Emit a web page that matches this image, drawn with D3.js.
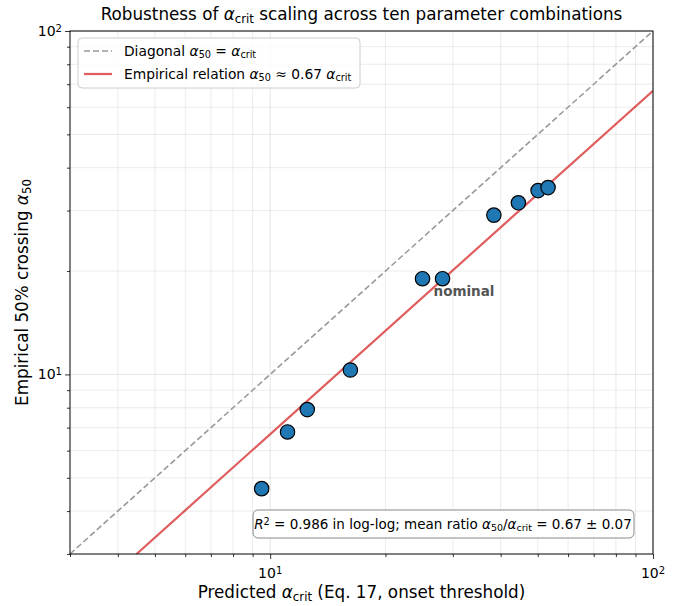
<!DOCTYPE html>
<html>
<head>
<meta charset="utf-8">
<script src="https://cdn.jsdelivr.net/npm/d3@7"></script>
<style>
  body { margin: 0; background: #fff; }
  text { font-family: "DejaVu Sans", sans-serif; }
</style>
</head>
<body>
<div class="chart"></div>
<script>
// ten parameter combinations
var predicted = [9.5, 11.1, 12.5, 16.2, 25.0, 28.2, 38.4, 44.5, 50.1, 53.2]
var empirical = [4.65, 6.8, 7.9, 10.3, 19.0, 19.0, 29.1, 31.6, 34.3, 35.0]
var nominalIndex = 5
var slope = 0.67
var domain = [3, 100]
var majorTicks = [10, 100]

var W = 689, H = 606
var margin = {top: 31, right: 36, bottom: 52, left: 70}
var width = W - margin.left - margin.right
var height = H - margin.top - margin.bottom

var svg = d3.select('.chart')
  .append('svg')
  .attr('width', W)
  .attr('height', H)

var x = d3.scaleLog().domain(domain).range([0, width])
var y = d3.scaleLog().domain(domain).range([height, 0])

// writes mixed text: [text, kind] where kind is '', 'i', 'sub', 'sup'
function mtext(sel, parts, size) {
  parts.forEach(function(p) {
    var t = sel.append('tspan').text(p[0])
    if (p[1] === 'i') t.attr('font-style', 'italic')
    if (p[1] === 'sub') t.attr('font-size', size * 0.7).attr('baseline-shift', '-22%')
    if (p[1] === 'sup') t.attr('font-size', size * 0.72).attr('baseline-shift', '45%')
  })
  return sel
}

var g = svg.append('g').attr('transform', 'translate(' + margin.left + ',' + margin.top + ')')

var minor = []
;[1, 10].forEach(function(d) {
  for (var k = 2; k <= 9; k++) if (d * k >= 3 && d * k < 100) minor.push(d * k)
})
var allTicks = minor.concat(majorTicks).filter(function(v) { return v > 3 })

// grid
g.selectAll('.gx').data(allTicks).enter().append('line')
  .attr('x1', function(d) { return x(d) }).attr('x2', function(d) { return x(d) })
  .attr('y1', 0).attr('y2', height)
  .attr('stroke', '#b0b0b0').attr('stroke-opacity', function(d) { return majorTicks.indexOf(d) >= 0 ? 0.4 : 0.3 })
  .attr('stroke-width', 0.8)
g.selectAll('.gy').data(allTicks).enter().append('line')
  .attr('y1', function(d) { return y(d) }).attr('y2', function(d) { return y(d) })
  .attr('x1', 0).attr('x2', width)
  .attr('stroke', '#b0b0b0').attr('stroke-opacity', function(d) { return majorTicks.indexOf(d) >= 0 ? 0.4 : 0.3 })
  .attr('stroke-width', 0.8)

g.append('clipPath').attr('id', 'clip').append('rect').attr('width', width).attr('height', height)
var plot = g.append('g').attr('clip-path', 'url(#clip)')

// diagonal
plot.append('line')
  .attr('x1', x(domain[0])).attr('y1', y(domain[0]))
  .attr('x2', x(domain[1])).attr('y2', y(domain[1]))
  .attr('stroke', '#999').attr('stroke-width', 1.6)
  .attr('stroke-dasharray', '6,3')

// empirical relation
plot.append('line')
  .attr('x1', x(domain[0] / slope)).attr('y1', y(domain[0]))
  .attr('x2', x(domain[1])).attr('y2', y(domain[1] * slope))
  .attr('stroke', '#d62728').attr('stroke-opacity', 0.75).attr('stroke-width', 2.2)

// points
g.selectAll('circle')
  .data(predicted)
  .enter().append('circle')
  .attr('cx', function(d) { return x(d) })
  .attr('cy', function(d, i) { return y(empirical[i]) })
  .attr('r', 7.2)
  .attr('fill', '#1f77b4')
  .attr('stroke', '#000').attr('stroke-width', 1.2)

g.append('text')
  .attr('x', x(predicted[nominalIndex]) - 9)
  .attr('y', y(empirical[nominalIndex]) + 17)
  .attr('font-size', 13.5).attr('font-weight', 'bold')
  .attr('fill', '#555')
  .text('nominal')

// axes
var xAxis = g.append('g').attr('transform', 'translate(0,' + height + ')')
var yAxis = g.append('g')
xAxis.call(d3.axisBottom(x).tickValues(minor).tickSize(3).tickFormat(''))
xAxis.call(function(s) { s.select('.domain').remove() })
xAxis.append('g').call(d3.axisBottom(x).tickValues(majorTicks).tickSize(5).tickFormat(''))
  .call(function(s) { s.select('.domain').remove() })
yAxis.call(d3.axisLeft(y).tickValues(minor).tickSize(3).tickFormat(''))
yAxis.call(function(s) { s.select('.domain').remove() })
yAxis.append('g').call(d3.axisLeft(y).tickValues(majorTicks).tickSize(5).tickFormat(''))
  .call(function(s) { s.select('.domain').remove() })
g.selectAll('.tick line').attr('stroke', '#000').attr('stroke-width', 0.8)

g.append('rect').attr('width', width).attr('height', height)
  .attr('fill', 'none').attr('stroke', '#000').attr('stroke-width', 1)

majorTicks.forEach(function(v) {
  var e = Math.round(Math.log10(v))
  mtext(g.append('text').attr('x', x(v)).attr('y', height + 24)
    .attr('text-anchor', 'middle').attr('font-size', 14), [['10', ''], [String(e), 'sup']], 14)
  mtext(g.append('text').attr('x', -8).attr('y', y(v) + 5)
    .attr('text-anchor', 'end').attr('font-size', 14), [['10', ''], [String(e), 'sup']], 14)
})

// labels
mtext(svg.append('text').attr('x', margin.left + width / 2).attr('y', 20)
  .attr('text-anchor', 'middle').attr('font-size', 16.8),
  [['Robustness of ', ''], ['α', 'i'], ['crit', 'sub'], [' scaling across ten parameter combinations', '']], 16.8)
mtext(svg.append('text').attr('x', margin.left + width / 2).attr('y', 598)
  .attr('text-anchor', 'middle').attr('font-size', 16.8),
  [['Predicted ', ''], ['α', 'i'], ['crit', 'sub'], [' (Eq. 17, onset threshold)', '']], 16.8)
mtext(svg.append('text').attr('transform', 'translate(28,' + (margin.top + height / 2) + ') rotate(-90)')
  .attr('text-anchor', 'middle').attr('font-size', 16.8),
  [['Empirical 50% crossing ', ''], ['α', 'i'], ['50', 'sub']], 16.8)

// legend
var leg = g.append('g').attr('transform', 'translate(8,7)')
leg.append('rect').attr('width', 282).attr('height', 50).attr('rx', 4)
  .attr('fill', '#fff').attr('fill-opacity', 0.8).attr('stroke', '#ccc')
leg.append('line').attr('x1', 6).attr('x2', 34).attr('y1', 13).attr('y2', 13)
  .attr('stroke', '#999').attr('stroke-width', 1.6).attr('stroke-dasharray', '6,3')
leg.append('line').attr('x1', 6).attr('x2', 34).attr('y1', 36).attr('y2', 36)
  .attr('stroke', '#d62728').attr('stroke-opacity', 0.75).attr('stroke-width', 2.2)
mtext(leg.append('text').attr('x', 46).attr('y', 18).attr('font-size', 13.8),
  [['Diagonal ', ''], ['α', 'i'], ['50', 'sub'], [' = ', ''], ['α', 'i'], ['crit', 'sub']], 13.8)
mtext(leg.append('text').attr('x', 46).attr('y', 41).attr('font-size', 13.8),
  [['Empirical relation ', ''], ['α', 'i'], ['50', 'sub'], [' ≈ 0.67 ', ''], ['α', 'i'], ['crit', 'sub']], 13.8)

// fit summary box
var box = g.append('g').attr('transform', 'translate(183,479)')
box.append('rect').attr('width', 381).attr('height', 28).attr('rx', 5)
  .attr('fill', '#fff').attr('stroke', '#888').attr('stroke-width', 1)
mtext(box.append('text').attr('x', 190).attr('y', 19).attr('text-anchor', 'middle').attr('font-size', 13.5),
  [['R', 'i'], ['2', 'sup'], [' = 0.986 in log-log; mean ratio ', ''], ['α', 'i'], ['50', 'sub'], ['/', ''],
   ['α', 'i'], ['crit', 'sub'], [' = 0.67 ± 0.07', '']], 13.5)
</script>
</body>
</html>
